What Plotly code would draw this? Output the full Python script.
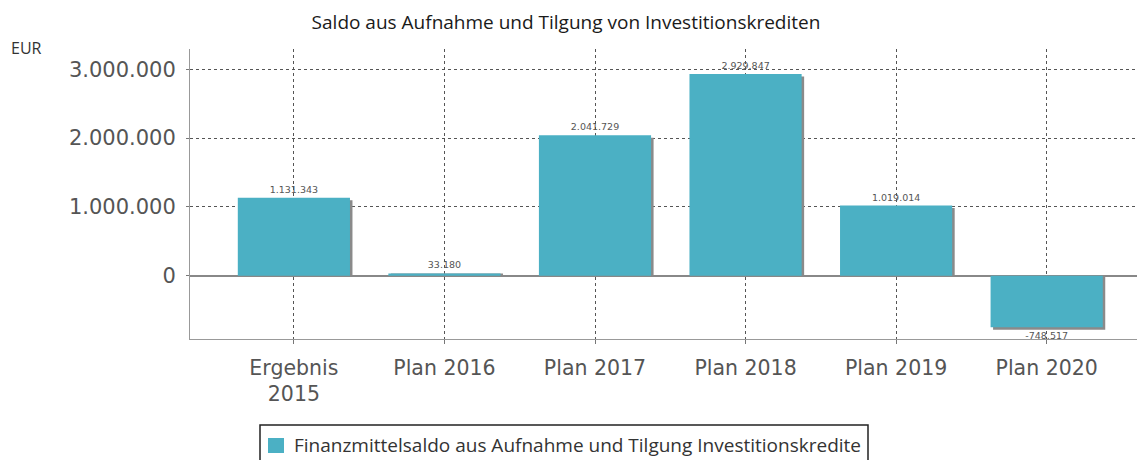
import plotly.graph_objects as go

categories = ["Ergebnis<br>2015", "Plan 2016", "Plan 2017", "Plan 2018", "Plan 2019", "Plan 2020"]
values = [1131343, 33180, 2041729, 2929847, 1019014, -748517]
series_name = "Finanzmittelsaldo aus Aufnahme und Tilgung Investitionskredite"
y_tick_vals = [0, 1000000, 2000000, 3000000]

W, H = 1137, 460
ml, mr, mt, mb = 190, 0, 49, 121
x_range = [-0.69, 5.60]
y_range = [-920000, 3295000]

xs = list(range(len(categories)))
plot_w = W - ml - mr
plot_h = H - mt - mb
px_x = (x_range[1] - x_range[0]) / plot_w
px_y = (y_range[1] - y_range[0]) / plot_h
dx, dy = 2.5 * px_x, 2.5 * px_y
shadow_x = [x + dx for x in xs]
shadow_y = [v - dy if abs(v) > dy else v for v in values]


def pxx(p):
    return (p - ml) / plot_w


def pxy(p):
    return (H - mb - p) / plot_h


bar_w = 0.745
teal = "#4bb0c4"
fig = go.Figure()
fig.add_trace(go.Bar(x=shadow_x, y=shadow_y, width=bar_w, marker=dict(color="#8a8a8a", line=dict(width=0)),
                     showlegend=False, hoverinfo="skip"))
fig.add_trace(go.Bar(x=xs, y=values, width=bar_w, name=series_name, showlegend=False,
                     marker=dict(color=teal, line=dict(width=0)),
                     texttemplate="%{y:,.0f}", textposition="outside", constraintext="none",
                     cliponaxis=True, textfont=dict(family="DejaVu Sans", size=9.5, color="#555")))

shapes = [
    dict(type="rect", xref="paper", yref="paper", x0=pxx(260), x1=pxx(868), y0=pxy(470), y1=pxy(425),
         line=dict(color="#222", width=1.5), fillcolor="white", layer="above"),
    dict(type="rect", xref="paper", yref="paper", x0=pxx(268), x1=pxx(284), y0=pxy(453), y1=pxy(438),
         line=dict(width=0), fillcolor=teal, layer="above"),
]

fig.update_layout(
    width=W, height=H, barmode="overlay", separators=",.", showlegend=False,
    margin=dict(l=ml, r=mr, t=mt, b=mb),
    paper_bgcolor="white", plot_bgcolor="white",
    title=dict(text="Saldo aus Aufnahme und Tilgung von Investitionskrediten", x=566 / W, xanchor="center",
               y=1 - 22 / H, yanchor="middle", font=dict(family="Open Sans", size=19, color="#1a1a1a")),
    xaxis=dict(range=x_range, tickmode="array", tickvals=xs, ticktext=categories,
               showgrid=True, gridcolor="#555", griddash="3px,3px", gridwidth=1,
               showline=True, linecolor="#999", linewidth=1,
               ticks="outside", ticklen=4, tickcolor="#777", ticklabelstandoff=6,
               tickfont=dict(family="DejaVu Sans", size=20.5, color="#555"), zeroline=False),
    yaxis=dict(range=y_range, tickmode="array", tickvals=y_tick_vals, tickformat=",.0f",
               showgrid=True, gridcolor="#555", griddash="3px,3px", gridwidth=1,
               showline=True, linecolor="#999", linewidth=1,
               ticks="outside", ticklen=3, tickcolor="#777", ticklabelstandoff=6,
               zeroline=True, zerolinecolor="#888", zerolinewidth=2,
               tickfont=dict(family="DejaVu Sans", size=21, color="#555")),
    shapes=shapes,
    annotations=[
        dict(text="EUR", xref="paper", yref="paper", x=pxx(9), xanchor="left",
             y=pxy(48), yanchor="middle", showarrow=False,
             font=dict(family="Open Sans", size=16, color="#333")),
        dict(text=series_name, xref="paper", yref="paper", x=pxx(292), xanchor="left",
             y=pxy(445), yanchor="middle", showarrow=False,
             font=dict(family="Open Sans", size=19, color="#333")),
    ],
)
fig.write_html("out.html", config={"displayModeBar": False},
               post_script="document.body.style.margin='0';")
